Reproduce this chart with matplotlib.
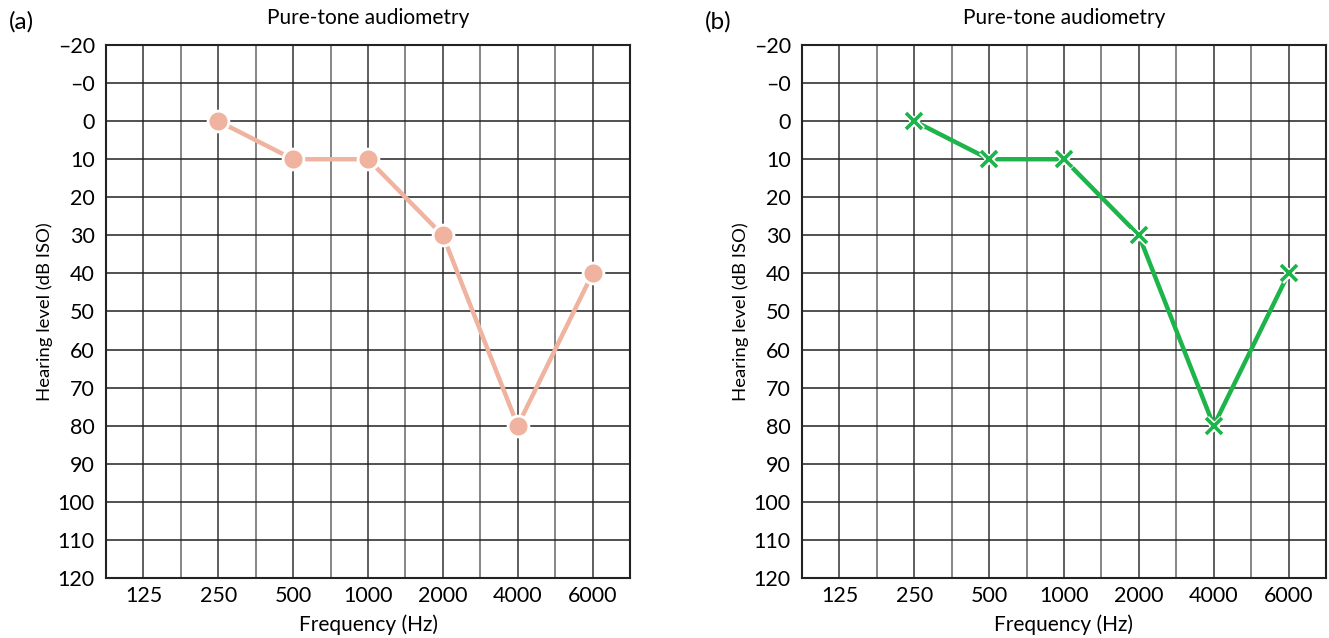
import numpy as np
import matplotlib.pyplot as plt

plt.rcParams.update({
    "font.family": ["Lato", "DejaVu Sans"],
    "font.size": 13,
})

# categorical frequencies on the x axis
freq_labels = ["125", "250", "500", "1000", "2000", "4000", "6000"]
# measured points (frequency, hearing level in dB)
meas_freqs = ["250", "500", "1000", "2000", "4000", "6000"]
hearing_a = [0, 10, 10, 30, 80, 40]
hearing_b = [0, 10, 10, 30, 80, 40]

y_ticks = [-20, -10, 0, 10, 20, 30, 40, 50, 60, 70, 80, 90, 100, 110, 120]
y_labels = ["\u201320", "\u20130"] + [str(v) for v in y_ticks[2:]]

C_A = "#F0B3A0"
C_B = "#1DB44B"

fig = plt.figure(figsize=(13.29, 6.38), dpi=100)
W, H = 1329, 638
ax_a = fig.add_axes([106 / W, 1 - 578 / H, 524 / W, 533 / H])
ax_b = fig.add_axes([802 / W, 1 - 578 / H, 524 / W, 533 / H])


def setup(ax, tag):
    ax.set_xlim(-0.5, len(freq_labels) - 0.5)
    ax.set_ylim(120, -20)
    ax.set_xticks(range(len(freq_labels)))
    ax.set_xticklabels(freq_labels)
    ax.set_yticks(y_ticks)
    ax.set_yticklabels(y_labels)
    ax.tick_params(length=0, labelsize=15.5)
    ax.tick_params(axis="y", pad=8)
    ax.tick_params(axis="x", pad=6)
    # grid: category lines + half lines
    for x in np.arange(0, len(freq_labels) - 0.5, 0.5):
        ax.axvline(x, color="#333333" if x % 1 == 0 else "#666666",
                   lw=1.1, zorder=1)
    for y in y_ticks[1:-1]:
        ax.axhline(y, color="#222222", lw=1.1, zorder=1)
    for s in ax.spines.values():
        s.set_linewidth(1.5)
        s.set_color("#222222")
    ax.set_xlabel("Frequency (Hz)", fontsize=15, va="center")
    ax.xaxis.set_label_coords(0.5, -0.088)
    ax.set_ylabel("Hearing level (dB ISO)", fontsize=13.3, va="center")
    ax.yaxis.set_label_coords(-0.117, 0.5)
    ax.text(0.5, 1.051, "Pure-tone audiometry", transform=ax.transAxes,
            fontsize=15, ha="center", va="center")
    ax.text(-0.185, 1.043, tag, transform=ax.transAxes, fontsize=17.5,
            ha="left", va="center")


setup(ax_a, "(a)")
setup(ax_b, "(b)")

xa = [freq_labels.index(f) for f in meas_freqs]
ax_a.plot(xa, hearing_a, color=C_A, lw=3.2, marker="o", markersize=15,
          markerfacecolor=C_A, markeredgecolor="white", markeredgewidth=2,
          zorder=3)
ax_b.plot(xa, hearing_b, color=C_B, lw=3.2, zorder=3)
ax_b.plot(xa, hearing_b, ls="none", marker="x", markersize=12,
          markeredgecolor="white", markeredgewidth=5, zorder=4)
ax_b.plot(xa, hearing_b, ls="none", marker="x", markersize=11,
          markeredgecolor=C_B, markeredgewidth=2.6, zorder=5)

fig.savefig("out.png", dpi=100)
